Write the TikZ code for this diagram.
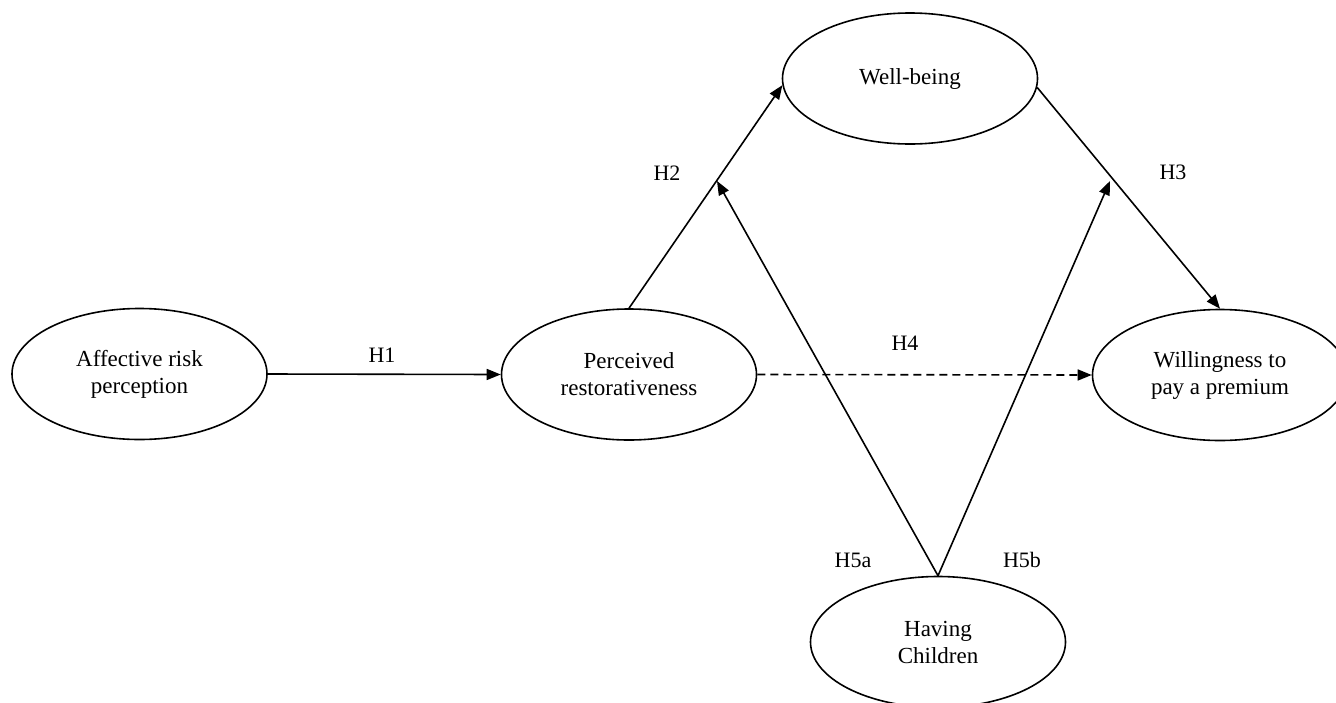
\documentclass[tikz,border=0pt]{standalone}
\usepackage{fontspec}
\setmainfont{Liberation Serif}
\usetikzlibrary{shapes.geometric,arrows.meta}
\begin{document}
\begin{tikzpicture}[x=1pt,y=-1pt,
  construct/.style={draw,ellipse,line width=1.6pt,minimum width=255pt,minimum height=131pt,inner sep=0pt,align=center,font=\fontsize{23}{27}\selectfont},
  lbl/.style={font=\fontsize{22}{26}\selectfont,inner sep=0pt},
  arr/.style={line width=1.6pt,-{Triangle[length=14pt,width=11pt]}},
  dasharr/.style={arr,dash pattern=on 8pt off 5pt}]
\useasboundingbox (0,0) rectangle (1336,702);
\node[construct] (A) at (139.5,374) {Affective risk\\perception};
\node[construct] (P) at (629,374.5) {Perceived\\restorativeness};
\node[construct] (W) at (910,78.5) {Well-being};
\node[construct] (Y) at (1220,375) {Willingness to\\pay a premium};
\node[construct] (H) at (938,642) {Having\\Children};
\coordinate (t5a) at (717,181);
\coordinate (t5b) at (1110,181);
\draw[arr] (A.east) -- (P.west);
\draw[arr] (P.north) -- (W.183);
\draw[arr] (W.-4) -- (Y.north);
\draw[dasharr] (P.east) -- (Y.west);
\draw[arr] (H.north) -- (t5a);
\draw[arr] (H.north) -- (t5b);
\node[lbl] (l1) at (382,355) {H1};
\node[lbl] (l2) at (667,173) {H2};
\node[lbl] (l3) at (1173,172) {H3};
\node[lbl] (l4) at (905,343) {H4};
\node[lbl] (l5a) at (853,560) {H5a};
\node[lbl] (l5b) at (1022,560) {H5b};
\end{tikzpicture}
\end{document}
